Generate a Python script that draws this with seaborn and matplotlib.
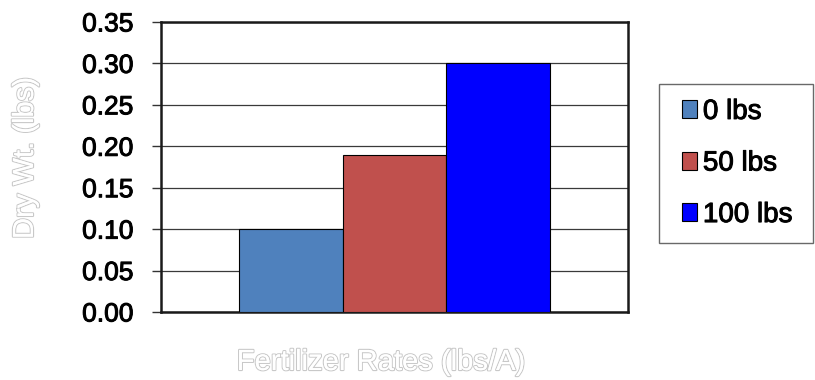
import matplotlib
matplotlib.use("Agg")
import matplotlib.pyplot as plt
import matplotlib.patheffects as pe
from matplotlib.patches import Rectangle
from matplotlib.legend_handler import HandlerPatch
import seaborn as sns
import pandas as pd

# Dry weight by fertilizer rate
categories = ["Fertilizer"]
rates = ["0 lbs", "50 lbs", "100 lbs"]
dry_weight = [0.10, 0.19, 0.30]
colors = ["#4F81BD", "#C0504D", "#0000FF"]
yticks = [0.00, 0.05, 0.10, 0.15, 0.20, 0.25, 0.30, 0.35]

df = pd.DataFrame({
    "category": categories * len(rates),
    "rate": rates,
    "weight": dry_weight,
})

sns.set_theme(style="white")
plt.rcParams["font.family"] = ["Liberation Sans", "DejaVu Sans"]
plt.rcParams["text.color"] = "black"
plt.rcParams["ytick.color"] = "black"

# slightly heavier than regular weight
heavy = [pe.withStroke(linewidth=0.7, foreground="black")]

fig = plt.figure(figsize=(8.15, 3.8), dpi=100)
ax = fig.add_axes([161 / 815, 1 - 312 / 380, 467 / 815, 290 / 380])

sns.barplot(data=df, x="category", y="weight", hue="rate", hue_order=rates,
            palette=colors, width=0.664, edgecolor="black", linewidth=0.8,
            saturation=1, ax=ax, zorder=3)

ax.set_xlim(-0.5, 0.5)
ax.set_ylim(0, 0.35)
ax.set_yticks(yticks)
ax.set_yticklabels([f"{v:.2f}" for v in yticks], fontsize=19, color="black")
for t in ax.get_yticklabels():
    t.set_path_effects(heavy)
ax.set_xticks([])
ax.yaxis.grid(True, color="#3a3a3a", linewidth=0.9, zorder=0)
ax.set_axisbelow(True)
ax.tick_params(axis="y", which="major", left=True, length=6.5, width=1,
               color="#333333", pad=13.5)
for s in ax.spines.values():
    s.set_visible(True)
    s.set_color("#1a1a1a")
    s.set_linewidth(1.8)

outline = [pe.withStroke(linewidth=1.6, foreground="#C8C8C8"), pe.Normal()]
ax.set_xlabel("")
ax.set_ylabel("")
fig.text(381 / 815, 1 - 362 / 380, "Fertilizer Rates (lbs/A)", color="white",
         fontsize=21, ha="center", va="center", path_effects=outline)
fig.text(25 / 815, 1 - 158 / 380, "Dry Wt. (lbs)", color="white",
         fontsize=21, ha="center", va="center", rotation=90, path_effects=outline)


def square_swatch(legend, orig_handle, xdescent, ydescent, width, height, fontsize):
    # small swatch pinned to the right end of the handle box
    w, h = 10.8, 13.0
    return Rectangle((width - w - xdescent, -ydescent + (height - h) / 2), w, h)


leg = ax.legend(loc="center left",
                bbox_to_anchor=(659 / 815, 1 - 242 / 380, 154 / 815, 157 / 380),
                bbox_transform=fig.transFigure, mode="expand",
                prop={"size": 20},
                frameon=True, fancybox=False, handlelength=0.81, handleheight=0.66,
                handletextpad=0.22, labelspacing=0.92, borderpad=0.55,
                borderaxespad=0,
                handler_map={Rectangle: HandlerPatch(patch_func=square_swatch)})
leg.get_frame().set_edgecolor("#444444")
leg.get_frame().set_linewidth(1.0)
for t in leg.get_texts():
    t.set_color("black")
    t.set_path_effects(heavy)

fig.savefig("out.png", dpi=100)
